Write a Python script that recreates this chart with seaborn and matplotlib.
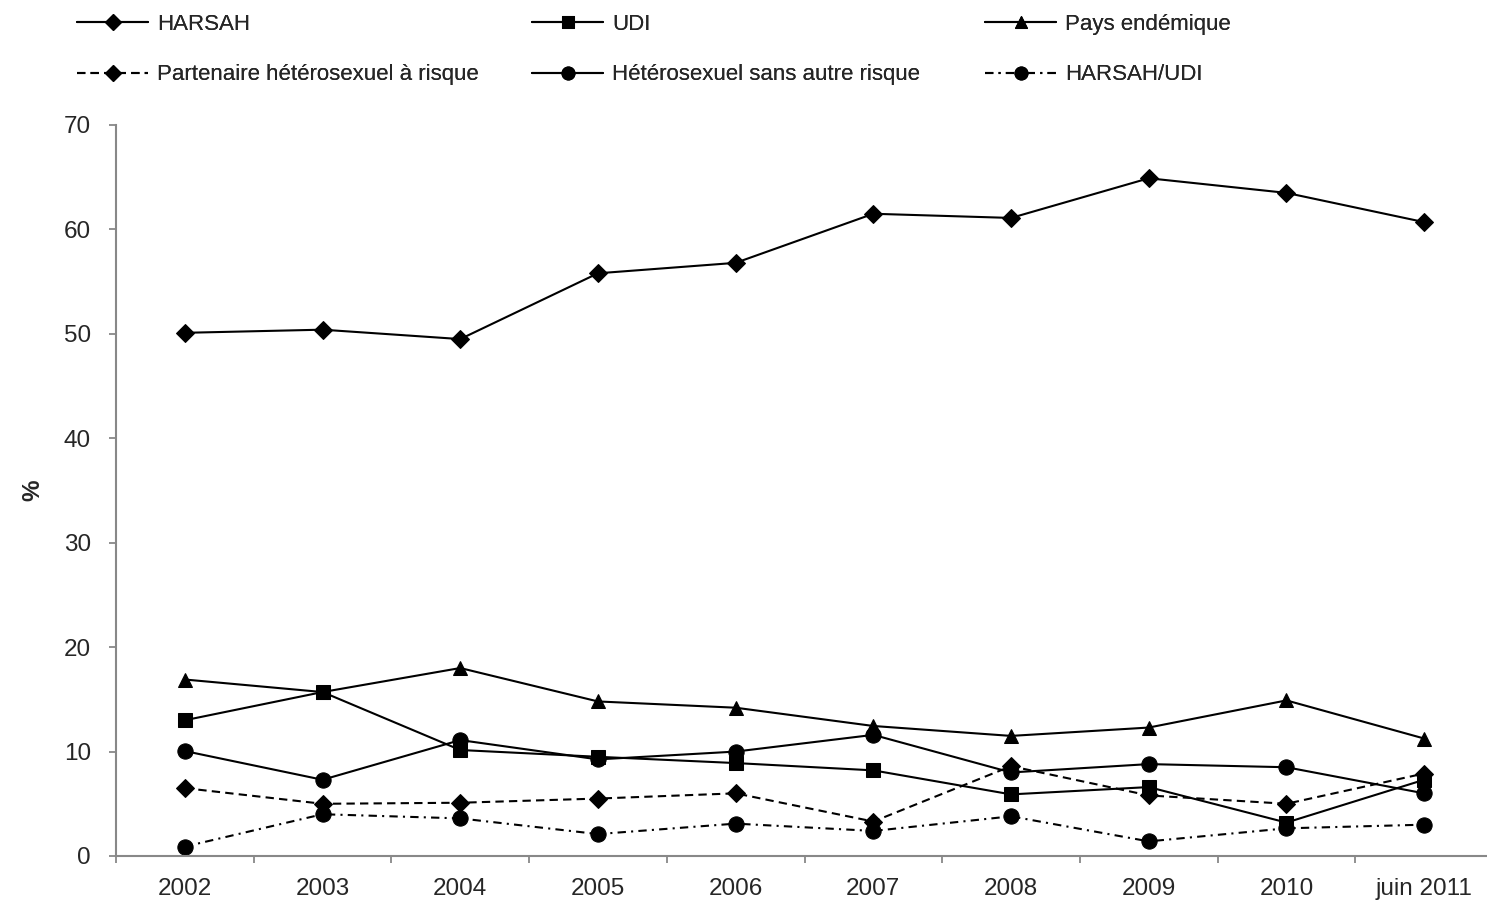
import matplotlib
matplotlib.use("Agg")
import matplotlib.pyplot as plt
from matplotlib.ticker import FixedLocator
import seaborn as sns

periods = ["2002", "2003", "2004", "2005", "2006", "2007", "2008", "2009", "2010", "juin 2011"]
harsah = [50.1, 50.4, 49.5, 55.8, 56.8, 61.5, 61.1, 64.9, 63.5, 60.7]
udi = [13.0, 15.7, 10.15, 9.5, 8.9, 8.2, 5.9, 6.6, 3.2, 7.3]
pays_endemique = [16.9, 15.7, 18.0, 14.8, 14.2, 12.45, 11.5, 12.3, 14.9, 11.25]
partenaire = [6.5, 5.0, 5.1, 5.5, 6.0, 3.3, 8.6, 5.8, 5.0, 7.9]
hetero_sans = [10.05, 7.3, 11.1, 9.25, 10.0, 11.6, 8.0, 8.8, 8.5, 6.0]
harsah_udi = [0.9, 4.0, 3.6, 2.1, 3.1, 2.4, 3.8, 1.4, 2.65, 3.0]

labels = ["HARSAH", "UDI", "Pays endémique", "Partenaire hétérosexuel à risque",
          "Hétérosexuel sans autre risque", "HARSAH/UDI"]

sns.set_style("white")
plt.rcParams["font.family"] = ["Liberation Sans", "DejaVu Sans"]
FS = 16
TFS = 17.5

W, H = 1487, 915
fig = plt.figure(figsize=(W / 100, H / 100), dpi=100)
ax = fig.add_axes([116 / W, 1 - 856 / H, 1377 / W, 731 / H])

styles = [
    (harsah, "D", "-", 9.5),
    (udi, "s", "-", 10.5),
    (pays_endemique, "^", "-", 10.5),
    (partenaire, "D", (0, (4, 2.5)), 9.5),
    (hetero_sans, "o", "-", 11),
    (harsah_udi, "o", (0, (4, 2.5, 1, 2.5)), 11),
]
for lab, (vals, mk, ls, ms) in zip(labels, styles):
    sns.lineplot(x=periods, y=vals, ax=ax, sort=False, color="black",
                 marker=mk, markersize=ms, markeredgecolor="black",
                 markerfacecolor="black", linestyle=ls, linewidth=1.5,
                 label=lab)

if ax.get_legend() is not None:
    ax.get_legend().remove()

ax.set_xlim(-0.5, len(periods) - 0.5)
ax.set_ylim(0, 70)
ax.set_yticks(range(0, 71, 10))
ax.set_xticks(range(len(periods)))
ax.set_xticklabels(periods)
ax.xaxis.set_minor_locator(FixedLocator([i - 0.5 for i in range(len(periods) + 1)]))
ax.tick_params(axis="x", which="major", length=0, pad=16, labelsize=TFS)
ax.tick_params(axis="x", which="minor", length=5, width=1.3, color="#888888", direction="out", bottom=True)
ax.tick_params(axis="y", length=5, width=1.3, color="#888888", direction="out", left=True, pad=13, labelsize=TFS)
for s in ["top", "right"]:
    ax.spines[s].set_visible(False)
for s in ["left", "bottom"]:
    ax.spines[s].set_color("#888888")
    ax.spines[s].set_linewidth(1.5)
ax.grid(False)
ax.set_xlabel("")
ax.set_ylabel("%", fontsize=TFS, fontweight="bold")
ax.yaxis.set_label_coords(-0.052, 0.5)

handles, hlabels = ax.get_legend_handles_labels()
hmap = dict(zip(hlabels, handles))
columns = [(77, [labels[0], labels[3]]), (532, [labels[1], labels[4]]), (985, [labels[2], labels[5]])]
for xpix, labs in columns:
    leg = fig.legend([hmap[l] for l in labs], labs, loc="upper left",
                     bbox_to_anchor=(xpix / W, 1 - 14 / H), frameon=False,
                     fontsize=FS, handlelength=3.2, handletextpad=0.4,
                     labelspacing=1.32, borderpad=0, borderaxespad=0,
                     markerscale=0.85)
    fig.add_artist(leg)

fig.savefig("out.png", dpi=100)
